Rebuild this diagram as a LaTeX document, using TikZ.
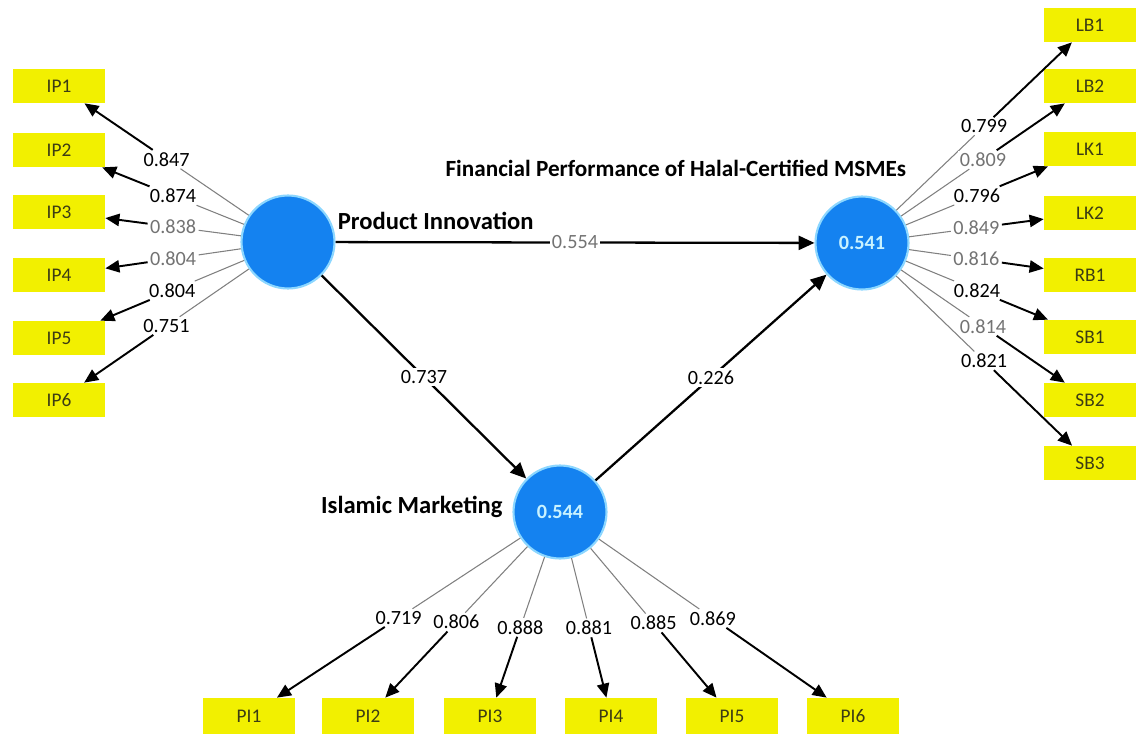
\documentclass[tikz,border=0pt]{standalone}
\usepackage{fontspec}
\setmainfont{Carlito}
\usetikzlibrary{positioning,arrows.meta}

\definecolor{lvblue}{RGB}{20,130,240}
\definecolor{lvhalo}{RGB}{140,215,255}
\definecolor{lvtext}{RGB}{200,242,255}
\definecolor{indyellow}{RGB}{242,240,0}
\definecolor{indtext}{RGB}{60,60,20}

\begin{document}
\begin{tikzpicture}[x=0.02cm, y=-0.02cm,
	latent/.style={circle, fill=lvblue, draw=lvhalo, line width=1.2pt, minimum size=1.86cm, inner sep=0pt,
		font=\fontsize{11.5}{13}\selectfont\bfseries, text=lvtext},
	indicator/.style={rectangle, fill=indyellow, minimum width=1.84cm, minimum height=0.68cm, inner sep=0pt,
		font=\fontsize{11}{13}\selectfont, text=indtext},
	caption/.style={font=\fontsize{14}{16}\selectfont\bfseries, inner sep=2pt},
	load/.style={fill=white, inner sep=1.2pt, font=\fontsize{11.5}{13}\selectfont},
	near/.style={draw=black!50, line width=0.6pt},
	far/.style={draw=black, line width=1.1pt, -{Triangle[length=8pt,width=7pt]}},
	struct/.style={draw=black, line width=1.3pt, -{Triangle[length=9pt,width=8pt]}}
	]
	\fill[white] (0,0) rectangle (1136,737);
	\useasboundingbox (0,0) rectangle (1136,737);

	% latent variables
	\node[latent] (prodinno) at (288,242) {};
	\node[latent] (finperf) at (862,243) {0.541};
	\node[latent] (islmark) at (560,512) {0.544};

	\node[caption, anchor=west] (prodcap) at (334,221) {Product Innovation};
	\node[caption, anchor=east, font=\fontsize{13.2}{16}\selectfont\bfseries] (fincap) at (910,168) {Financial Performance of Halal-Certified MSMEs};
	\node[caption, left=0.12cm of islmark, yshift=3pt] (islcap) {Islamic Marketing};

	% indicators
	\foreach \n/\y in {IP1/86, IP2/150, IP3/212, IP4/275, IP5/338, IP6/400}
		\node[indicator] (\n) at (59,\y) {\n};
	\foreach \n/\y in {LB1/25, LB2/86, LK1/149, LK2/213, RB1/275, SB1/337, SB2/400, SB3/463}
		\node[indicator] (\n) at (1090,\y) {\n};
	\foreach \n/\x in {PI1/249, PI2/368, PI3/490, PI4/611, PI5/732, PI6/853}
		\node[indicator, minimum height=0.72cm] (\n) at (\x,716) {\n};

	% outer loadings
	\foreach \n/\v/\c in {IP1/0.847/black, IP2/0.874/black, IP3/0.838/black!55, IP4/0.804/black!55, IP5/0.804/black, IP6/0.751/black}{
		\path (prodinno) -- (\n) node[load, text=\c, pos=0.5] (l\n) {\v};
		\draw[near] (prodinno) -- (l\n);
		\draw[far] (l\n) -- (\n);
	}
	\foreach \n/\v/\c in {LB1/0.799/black, LB2/0.809/black!55, LK1/0.796/black, LK2/0.849/black!55, RB1/0.816/black!55, SB1/0.824/black, SB2/0.814/black!55, SB3/0.821/black}{
		\path (finperf) -- (\n) node[load, text=\c, pos=0.5] (l\n) {\v};
		\draw[near] (finperf) -- (l\n);
		\draw[far] (l\n) -- (\n);
	}
	\foreach \n/\v/\c in {PI1/0.719/black, PI2/0.806/black, PI3/0.888/black, PI4/0.881/black, PI5/0.885/black, PI6/0.869/black}{
		\path (islmark) -- (\n) node[load, text=\c, pos=0.5] (l\n) {\v};
		\draw[near] (islmark) -- (l\n);
		\draw[far] (l\n) -- (\n);
	}

	% path coefficients
	\draw[struct] (prodinno) -- node[load, text=black!55] (c1) {0.554} (finperf);
	\draw[struct] (prodinno) -- node[load] (c2) {0.737} (islmark);
	\draw[struct] (islmark) -- node[load] (c3) {0.226} (finperf);
\end{tikzpicture}
\end{document}
